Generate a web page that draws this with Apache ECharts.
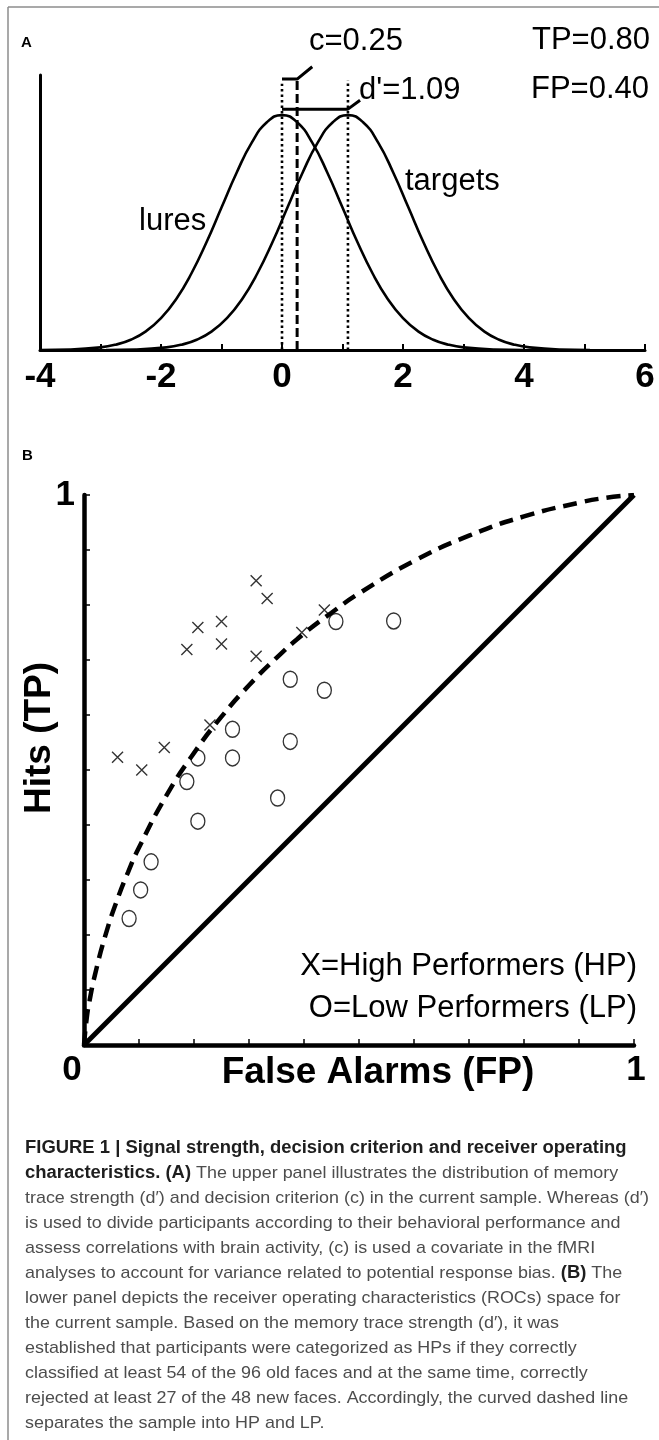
<!DOCTYPE html>
<html><head><meta charset="utf-8">
<script src="https://cdn.jsdelivr.net/npm/echarts@6/dist/echarts.min.js"></script>
<style>html,body{margin:0;padding:0;background:#fff;}#c{width:659px;height:1440px;}</style>
</head><body><div id="c"></div>
<script>
// ---------- Panel A: signal detection distributions ----------
const luresX   = [-4, -3.5, -3, -2.75, -2.5, -2.25, -2, -1.75, -1.5, -1.25, -1, -0.75, -0.5, -0.25, 0, 0.25, 0.5, 0.75, 1, 1.25, 1.5, 1.75, 2, 2.25, 2.5, 2.75, 3, 3.5, 4];
const luresY   = [0.0001, 0.0009, 0.0044, 0.0091, 0.0175, 0.0317, 0.0540, 0.0863, 0.1295, 0.1826, 0.2420, 0.3011, 0.3521, 0.3867, 0.3989, 0.3867, 0.3521, 0.3011, 0.2420, 0.1826, 0.1295, 0.0863, 0.0540, 0.0317, 0.0175, 0.0091, 0.0044, 0.0009, 0.0001];
const targetsX = [-2.91, -2.41, -1.91, -1.66, -1.41, -1.16, -0.91, -0.66, -0.41, -0.16, 0.09, 0.34, 0.59, 0.84, 1.09, 1.34, 1.59, 1.84, 2.09, 2.34, 2.59, 2.84, 3.09, 3.34, 3.59, 3.84, 4.09, 4.59, 5.09];
const targetsY = [0.0001, 0.0009, 0.0044, 0.0091, 0.0175, 0.0317, 0.0540, 0.0863, 0.1295, 0.1826, 0.2420, 0.3011, 0.3521, 0.3867, 0.3989, 0.3867, 0.3521, 0.3011, 0.2420, 0.1826, 0.1295, 0.0863, 0.0540, 0.0317, 0.0175, 0.0091, 0.0044, 0.0009, 0.0001];
const xTickLabelsA = [-4, -2, 0, 2, 4, 6];
const criterionC = 0.25;
const dPrime = 1.09;
const annotA = ['c=0.25', "d'=1.09", 'TP=0.80', 'FP=0.40'];

// ---------- Panel B: ROC space ----------
const hpFP = [0.313, 0.333, 0.207, 0.250, 0.250, 0.187, 0.313, 0.437, 0.396, 0.229, 0.146, 0.061, 0.105];
const hpTP = [0.844, 0.812, 0.759, 0.770, 0.729, 0.719, 0.707, 0.791, 0.750, 0.582, 0.541, 0.523, 0.500];
const lpFP = [0.458, 0.563, 0.375, 0.437, 0.270, 0.375, 0.207, 0.270, 0.187, 0.352, 0.207, 0.122, 0.103, 0.082];
const lpTP = [0.770, 0.771, 0.665, 0.645, 0.574, 0.552, 0.522, 0.522, 0.479, 0.449, 0.407, 0.333, 0.282, 0.230];
const curveFP = [0, 0.005, 0.01, 0.02, 0.04, 0.06, 0.08, 0.1, 0.15, 0.2, 0.25, 0.3, 0.35, 0.4, 0.45, 0.5, 0.6, 0.7, 0.8, 0.9, 0.95, 1];
const curveTP = [0, 0.049, 0.080, 0.128, 0.203, 0.263, 0.314, 0.359, 0.454, 0.531, 0.597, 0.654, 0.704, 0.748, 0.786, 0.821, 0.880, 0.926, 0.961, 0.986, 0.995, 1];
const chanceFP = [0, 1];
const chanceTP = [0, 1];
const xTickLabelsB = ['0', '1'];
const yTickLabelsB = ['1'];

// ---------- Caption ----------
const captionLines = [
  [['b', 'FIGURE 1 | Signal strength, decision criterion and receiver operating']],
  [['b', 'characteristics. (A)'], ['n', ' The upper panel illustrates the distribution of memory']],
  [['n', 'trace strength (d\u2032) and decision criterion (c) in the current sample. Whereas (d\u2032)']],
  [['n', 'is used to divide participants according to their behavioral performance and']],
  [['n', 'assess correlations with brain activity, (c) is used a covariate in the fMRI']],
  [['n', 'analyses to account for variance related to potential response bias. '], ['b', '(B)'], ['n', ' The']],
  [['n', 'lower panel depicts the receiver operating characteristics (ROCs) space for']],
  [['n', 'the current sample. Based on the memory trace strength (d\u2032), it was']],
  [['n', 'established that participants were categorized as HPs if they correctly']],
  [['n', 'classified at least 54 of the 96 old faces and at the same time, correctly']],
  [['n', 'rejected at least 27 of the 48 new faces. Accordingly, the curved dashed line']],
  [['n', 'separates the sample into HP and LP.']]
];

const FF = "'Liberation Sans', Arial, Helvetica, sans-serif";
const zip = (a, b) => a.map((v, i) => [v, b[i]]);

const chart = echarts.init(document.getElementById('c'), null, {renderer: 'canvas'});

// caption horizontal compression to match the condensed original typeface
const mctx = document.createElement('canvas').getContext('2d');
mctx.font = "17px " + FF;
const capScale = 624 / mctx.measureText(captionLines[2][0][1]).width;

const captionGraphics = captionLines.map((segs, i) => ({
  type: 'text', x: 25, y: 1148 + i * 25, scaleX: capScale, silent: true,
  style: {
    x: 0, y: 0, verticalAlign: 'middle', align: 'left',
    text: segs.map(s => '{' + s[0] + '|' + s[1] + '}').join(''),
    rich: {
      b: {fontFamily: FF, fontSize: 17.5, fontWeight: 'bold', fill: '#1e1e1e', color: '#1e1e1e'},
      n: {fontFamily: FF, fontSize: 17, fontWeight: 'normal', fill: '#4d4d4d', color: '#4d4d4d'}
    }
  }
}));

const txt = (text, x, y, size, weight, align, extra) => Object.assign({
  type: 'text', x: x, y: y, silent: true,
  style: {x: 0, y: 0, text: text, fontFamily: FF, fontSize: size, fontWeight: weight || 'normal',
          fill: '#000', align: align || 'left', verticalAlign: 'middle'}
}, extra || {});

const option = {
  animation: false,
  backgroundColor: '#fff',
  grid: [
    {left: 40, top: 75, width: 605, height: 275},
    {left: 84, top: 495, width: 550, height: 550}
  ],
  xAxis: [
    {type: 'value', gridIndex: 0, min: -4, max: 6, interval: 1,
     axisLine: {show: true, onZero: false, lineStyle: {color: '#000', width: 3}},
     axisTick: {show: true, inside: true, length: 6, lineStyle: {color: '#000', width: 2}},
     axisLabel: {show: true, margin: 10, color: '#000', fontFamily: FF, fontSize: 35, fontWeight: 'bold',
                 formatter: v => xTickLabelsA.indexOf(v) >= 0 ? String(v) : ''},
     splitLine: {show: false}},
    {type: 'value', gridIndex: 1, min: 0, max: 1, interval: 0.1,
     axisLine: {show: true, onZero: false, lineStyle: {color: '#000', width: 4.5}},
     axisTick: {show: true, inside: true, length: 6, lineStyle: {color: '#000', width: 1.5}},
     axisLabel: {show: true, margin: 8, color: '#000', fontFamily: FF, fontSize: 35, fontWeight: 'bold',
                 formatter: v => v === 0 ? '{l|' + xTickLabelsB[0] + '}' : (v === 1 ? '{r|' + xTickLabelsB[1] + '}' : ''),
                 rich: {
                   l: {fontFamily: FF, fontSize: 35, fontWeight: 'bold', color: '#000', padding: [0, 24, 0, 0]},
                   r: {fontFamily: FF, fontSize: 35, fontWeight: 'bold', color: '#000', padding: [0, 0, 0, 4]}
                 }},
     splitLine: {show: false}}
  ],
  yAxis: [
    {type: 'value', gridIndex: 0, min: 0, max: 0.467,
     axisLine: {show: true, onZero: false, lineStyle: {color: '#000', width: 3}},
     axisTick: {show: false}, axisLabel: {show: false}, splitLine: {show: false}},
    {type: 'value', gridIndex: 1, min: 0, max: 1, interval: 0.1,
     axisLine: {show: true, onZero: false, lineStyle: {color: '#000', width: 4.5}},
     axisTick: {show: true, inside: true, length: 6, lineStyle: {color: '#000', width: 1.5}},
     axisLabel: {show: true, margin: 9, color: '#000', fontFamily: FF, fontSize: 35, fontWeight: 'bold',
                 formatter: v => v === 1 ? yTickLabelsB[0] : ''},
     splitLine: {show: false}}
  ],
  series: [
    {name: 'lures', type: 'line', xAxisIndex: 0, yAxisIndex: 0, data: zip(luresX, luresY), smooth: true,
     showSymbol: false, silent: true, lineStyle: {color: '#000', width: 2.6}},
    {name: 'targets', type: 'line', xAxisIndex: 0, yAxisIndex: 0, data: zip(targetsX, targetsY), smooth: true,
     showSymbol: false, silent: true, lineStyle: {color: '#000', width: 2.6}},
    {name: 'lures mean', type: 'line', xAxisIndex: 0, yAxisIndex: 0, data: [[0, 0], [0, 0.452]],
     showSymbol: false, silent: true, lineStyle: {color: '#000', width: 2.6, type: [2.5, 3]}},
    {name: 'targets mean', type: 'line', xAxisIndex: 0, yAxisIndex: 0, data: [[dPrime, 0], [dPrime, 0.458]],
     showSymbol: false, silent: true, lineStyle: {color: '#000', width: 2.6, type: [2.5, 3]}},
    {name: 'criterion', type: 'line', xAxisIndex: 0, yAxisIndex: 0, data: [[criterionC, 0], [criterionC, 0.46]],
     showSymbol: false, silent: true, lineStyle: {color: '#000', width: 3, type: [9, 4]}},
    {name: 'c bracket', type: 'line', xAxisIndex: 0, yAxisIndex: 0, clip: false,
     data: [[0, 0.46], [criterionC, 0.46], [criterionC + 0.25, 0.481]],
     showSymbol: false, silent: true, lineStyle: {color: '#000', width: 3}},
    {name: 'd bracket', type: 'line', xAxisIndex: 0, yAxisIndex: 0, clip: false,
     data: [[0, 0.409], [dPrime, 0.409], [dPrime + 0.2, 0.424]],
     showSymbol: false, silent: true, lineStyle: {color: '#000', width: 3}},

    {name: 'chance', type: 'line', xAxisIndex: 1, yAxisIndex: 1, data: zip(chanceFP, chanceTP),
     showSymbol: false, silent: true, lineStyle: {color: '#000', width: 5}},
    {name: 'criterion curve', type: 'line', xAxisIndex: 1, yAxisIndex: 1, data: zip(curveFP, curveTP), smooth: true,
     showSymbol: false, silent: true, lineStyle: {color: '#000', width: 4.5, type: [14, 8]}},
    {name: 'HP', type: 'scatter', xAxisIndex: 1, yAxisIndex: 1, data: zip(hpFP, hpTP), silent: true,
     symbol: 'path://M0,0L10,10M10,0L0,10', symbolSize: 11,
     itemStyle: {color: 'transparent', borderColor: '#000', borderWidth: 1.4}},
    {name: 'LP', type: 'scatter', xAxisIndex: 1, yAxisIndex: 1, data: zip(lpFP, lpTP), silent: true,
     symbol: 'circle', symbolSize: [14, 16],
     itemStyle: {color: 'transparent', borderColor: '#000', borderWidth: 1.4}}
  ],
  graphic: [
    {type: 'line', silent: true, shape: {x1: 8, y1: 7, x2: 8, y2: 1440}, style: {stroke: '#8c8c8c', lineWidth: 1.5}},
    {type: 'line', silent: true, shape: {x1: 8, y1: 7, x2: 659, y2: 7}, style: {stroke: '#8c8c8c', lineWidth: 1.5}},
    txt('A', 21, 43, 15, 'bold'),
    txt(annotA[0], 309, 41, 31),
    txt(annotA[1], 359, 90, 31),
    txt(annotA[2], 532, 40, 31),
    txt(annotA[3], 531, 89, 31),
    txt('lures', 139, 221, 31),
    txt('targets', 405, 181, 31),
    txt('B', 22, 456, 15, 'bold'),
    txt('False Alarms (FP)', 378, 1073, 37, 'bold', 'center'),
    txt('Hits (TP)', 40, 738, 37, 'bold', 'center', {rotation: Math.PI / 2}),
    txt('X=High Performers (HP)', 637, 966, 31, 'normal', 'right'),
    txt('O=Low Performers (LP)', 637, 1008, 31, 'normal', 'right')
  ].concat(captionGraphics)
};
chart.setOption(option);
</script></body></html>
